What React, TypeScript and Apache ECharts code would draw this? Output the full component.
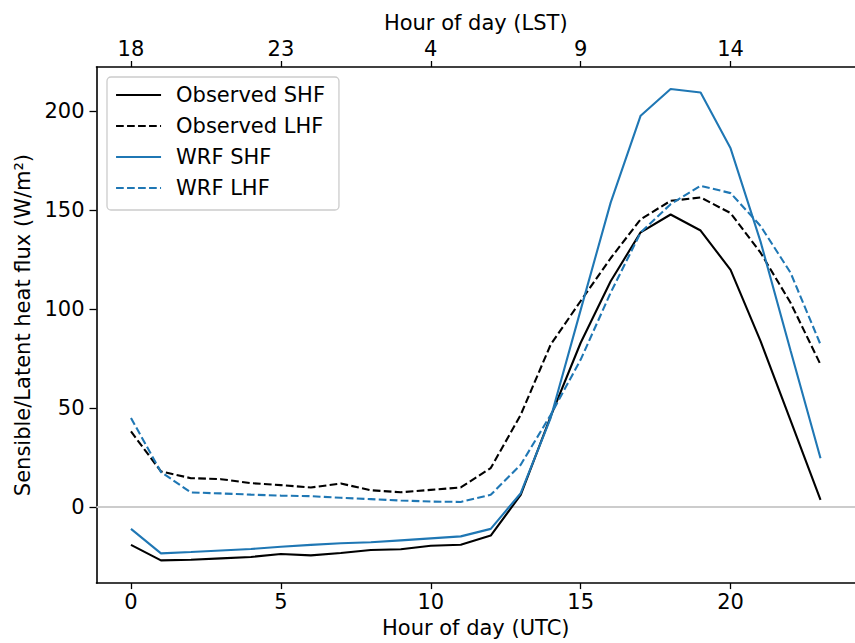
import React, { useEffect, useRef } from "react";
import * as echarts from "echarts";

const hours = [0, 1, 2, 3, 4, 5, 6, 7, 8, 9, 10, 11, 12, 13, 14, 15, 16, 17, 18, 19, 20, 21, 22, 23];
const obsSHF = [-19.2, -27.0, -26.7, -26.0, -25.3, -23.8, -24.5, -23.3, -21.8, -21.4, -19.6, -19.1, -14.5, 6.1, 45.7, 82.9, 114.0, 138.7, 147.7, 139.6, 119.7, 83.7, 43.7, 3.5];
const obsLHF = [38.1, 17.9, 14.5, 14.0, 12.0, 11.0, 9.8, 11.8, 8.4, 7.4, 8.6, 9.8, 19.6, 46.5, 82.0, 104.0, 125.6, 145.3, 154.6, 156.3, 148.4, 128.4, 103.1, 71.9];
const wrfSHF = [-11.1, -23.5, -22.8, -22.0, -21.3, -20.1, -19.2, -18.4, -17.9, -16.9, -15.9, -14.9, -11.1, 6.9, 45.0, 99.5, 153.7, 197.6, 211.1, 209.3, 181.1, 134.0, 79.0, 24.6];
const wrfLHF = [44.9, 17.6, 7.3, 6.8, 6.2, 5.7, 5.4, 4.6, 3.9, 3.2, 2.7, 2.5, 6.1, 21.3, 46.5, 74.4, 108.2, 138.6, 152.9, 162.2, 158.5, 141.9, 118.3, 82.0];

const utcTicks = [0, 5, 10, 15, 20];
const lstTickLabels = ["18", "23", "4", "9", "14"];
const yTicks = [0, 50, 100, 150, 200];

const FONT = "DejaVu Sans";
const FS = 21;
const BLUE = "#1f77b4";

export default function App() {
  const ref = useRef<HTMLDivElement>(null);
  useEffect(() => {
    if (!ref.current) return;
    const chart = echarts.init(ref.current, undefined, { renderer: "svg" });
    const pair = (arr: number[]) => hours.map((h, i) => [h, arr[i]]);
    const axisCommon = {
      axisLine: { show: true, onZero: false, lineStyle: { color: "#000", width: 1.6 } },
      splitLine: { show: false },
    };
    const mkSeries = (name: string, data: number[], color: string, dashed: boolean, extra: any = {}) => ({
      name,
      type: "line",
      data: pair(data),
      showSymbol: false,
      symbol: "none",
      xAxisIndex: 0,
      yAxisIndex: 0,
      lineStyle: { color, width: 2.1, type: dashed ? [7.7, 3.3] : "solid" },
      itemStyle: { color },
      z: 3,
      ...extra,
    });
    chart.setOption({
      animation: false,
      textStyle: { fontFamily: FONT },
      grid: { left: 96.5, top: 67, width: 766, height: 516.3, containLabel: false },
      legend: {
        orient: "vertical",
        left: 107,
        top: 77,
        padding: [6, 14, 10, 8],
        itemWidth: 45,
        itemHeight: 24,
        itemGap: 7,
        borderColor: "#cccccc",
        borderWidth: 1.3,
        borderRadius: 4,
        backgroundColor: "rgba(255,255,255,0.8)",
        itemStyle: { opacity: 0 },
        lineStyle: { width: 2.1 },
        textStyle: { fontFamily: FONT, fontSize: FS, color: "#000", padding: [0, 0, 0, 10], lineHeight: 24 },
        data: ["Observed SHF", "Observed LHF", "WRF SHF", "WRF LHF"],
      },
      xAxis: [
        {
          type: "value",
          position: "bottom",
          min: -1.15,
          max: 24.15,
          ...axisCommon,
          name: "Hour of day (UTC)",
          nameLocation: "middle",
          nameGap: 33,
          nameTextStyle: { fontFamily: FONT, fontSize: FS, color: "#000" },
          axisTick: { show: true, customValues: utcTicks, length: 6, lineStyle: { color: "#000", width: 1.3 } },
          axisLabel: { customValues: utcTicks, fontFamily: FONT, fontSize: FS, color: "#000", margin: 8 },
        },
        {
          type: "value",
          position: "top",
          min: -1.15,
          max: 24.15,
          ...axisCommon,
          name: "Hour of day (LST)",
          nameLocation: "middle",
          nameGap: 34,
          nameTextStyle: { fontFamily: FONT, fontSize: FS, color: "#000" },
          axisTick: { show: true, customValues: utcTicks, length: 6, lineStyle: { color: "#000", width: 1.3 } },
          axisLabel: {
            customValues: utcTicks,
            fontFamily: FONT,
            fontSize: FS,
            color: "#000",
            margin: 8,
            formatter: (v: number) => {
              const i = utcTicks.indexOf(Math.round(v));
              return i >= 0 ? lstTickLabels[i] : "";
            },
          },
        },
      ],
      yAxis: [
        {
          type: "value",
          position: "left",
          min: -38.5,
          max: 222.2,
          ...axisCommon,
          name: "Sensible/Latent heat flux (W/m²)",
          nameLocation: "middle",
          nameGap: 53,
          nameTextStyle: { fontFamily: FONT, fontSize: FS, color: "#000" },
          axisTick: { show: true, customValues: yTicks, length: 7, lineStyle: { color: "#000", width: 1.3 } },
          axisLabel: { customValues: yTicks, fontFamily: FONT, fontSize: FS, color: "#000", margin: 12 },
        },
      ],
      series: [
        mkSeries("Observed SHF", obsSHF, "#000", false, {
          markLine: {
            silent: true,
            symbol: "none",
            label: { show: false },
            lineStyle: { color: "#cccccc", width: 2.2, type: "solid" },
            data: [{ yAxis: 0 }],
            z: 1,
          },
        }),
        mkSeries("Observed LHF", obsLHF, "#000", true),
        mkSeries("WRF SHF", wrfSHF, BLUE, false),
        mkSeries("WRF LHF", wrfLHF, BLUE, true),
      ],
    });
    return () => chart.dispose();
  }, []);
  return (
    <div
      ref={ref}
      style={{ position: "fixed", left: 0, top: 0, width: 855, height: 643, background: "#fff" }}
    />
  );
}
